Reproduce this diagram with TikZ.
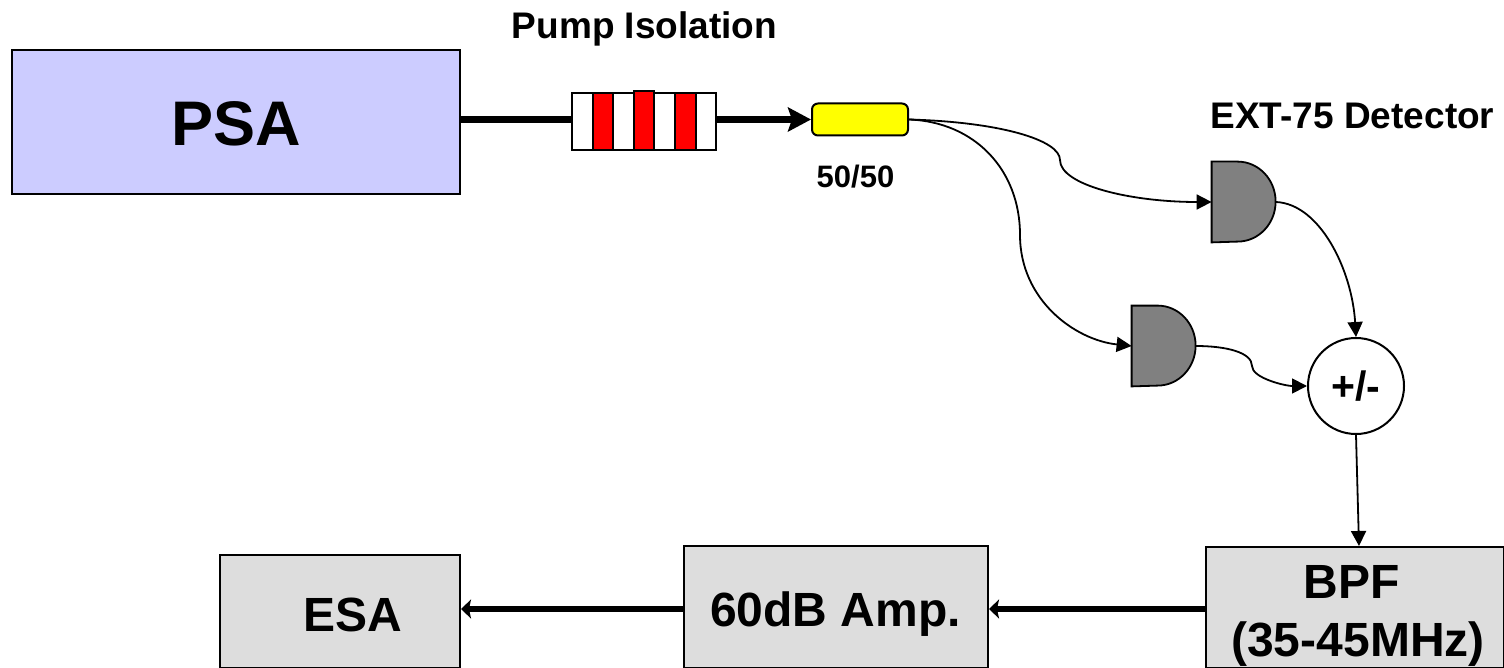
\documentclass[tikz,border=0pt]{standalone}
\usepackage{fontspec}
\setmainfont{Liberation Sans}
\usepackage{tikz}
\usetikzlibrary{arrows.meta}
\definecolor{couplerfill}{rgb}{1,1,0}
\tikzset{
  boxnode/.style={draw, line width=1pt, inner sep=0pt},
  boxlabel/.style={inner sep=0pt, anchor=base, font=\fontsize{24}{28}\selectfont\bfseries},
  thickline/.style={line width=3.7pt},
  thinline/.style={line width=0.9pt, -{Stealth[length=7.5pt,width=7.5pt,inset=0pt]}},
  bigtip/.style={-{Stealth[length=11.5pt,width=12pt,inset=2pt]}},
  smalltip/.style={-{Stealth[length=5pt,width=9.5pt,inset=1pt]}},
  stripe/.style={draw, line width=1pt, inner sep=0pt, minimum width=10.3pt, minimum height=28.5pt, anchor=west}
}
\begin{document}
\begin{tikzpicture}[x=0.5pt,y=-0.5pt]
\useasboundingbox (0,0) rectangle (1504,668);
\node[boxnode, fill={rgb,255:red,204;green,204;blue,255}, minimum width=224pt, minimum height=72pt] (psa) at (236,122) {};
\node[boxlabel, font=\fontsize{31.5}{36}\selectfont\bfseries] (psalabel) at (236,145.5) {PSA};
\draw \foreach \x/\c in {0/white,2/white,4/white,6/white,1/red,5/red} {(571+20.6*\x,121.5) node[stripe, fill=\c] (ring\x) {}};
\draw (571+20.6*3,121) node[stripe, fill=red, minimum height=29.5pt] (ring3) {};
\node[boxnode, fill=couplerfill, rounded corners=3pt, minimum width=48pt, minimum height=16pt] (coupler) at (860,119.5) {};
\node[font=\fontsize{18.5}{22}\selectfont\bfseries] (pumplabel) at (644.5,29) {Pump Isolation};
\node[font=\fontsize{15.5}{18}\selectfont\bfseries] (couplerlabel) at (855.5,177) {50/50};
\node[font=\fontsize{18.5}{22}\selectfont\bfseries] (detlabel) at (1352.5,116) {EXT-75 Detector};
\node[inner sep=0pt, minimum width=32pt, minimum height=40pt] (det1) at (1244,202) {};
\node[inner sep=0pt, minimum width=32pt, minimum height=40pt] (det2) at (1164,346) {};
\draw[line width=0.9pt, fill=gray] \foreach \d in {det1,det2} {(\d.north west) -- ++(26,0) arc (90:-90:19pt and 20pt) -- (\d.south west) -- cycle};
\node[circle, boxnode, fill=white, minimum size=48pt, font=\fontsize{20.5}{24}\selectfont\bfseries] (sum) at (1356,386) {+/-};
\node[boxnode, fill={rgb,255:red,221;green,221;blue,221}, minimum width=149pt, minimum height=60.5pt] (bpf) at (1355,607.5) {};
\node[boxlabel] (bpflabel) at (1351.5,598) {BPF};
\node[boxlabel] (bandlabel) at (1358,656) {(35-45MHz)};
\node[boxnode, fill={rgb,255:red,221;green,221;blue,221}, minimum width=152pt, minimum height=61pt] (amp) at (836,607) {};
\node[boxlabel] (amplabel) at (835.5,626) {60dB Amp.};
\node[boxnode, fill={rgb,255:red,221;green,221;blue,221}, minimum width=120pt, minimum height=56.5pt] (esa) at (340,611.5) {};
\node[boxlabel] (esalabel) at (353,631) {ESA};
\coordinate (bend1) at (1060,160);
\coordinate (bend2) at (1020,235);
\coordinate (bend3) at (1252,366);
\draw[thickline] (psa.east |- coupler) -- (ring0.west |- coupler);
\draw[thickline, bigtip] (ring6.east |- coupler) -- (coupler.west);
\draw[thinline] (coupler.east) .. controls (1000,122) and (1060,140) .. (bend1) .. controls (1060,185) and (1130,202) .. (det1.west);
\draw[thinline] (coupler.east) .. controls (975,122) and (1020,170) .. (bend2) .. controls (1020,300) and (1075,340) .. (det2.west);
\draw[thinline] (1276,202) .. controls (1320,204) and (1352,270) .. (sum.north);
\draw[thinline] (1196,346) .. controls (1225,346) and (1252,352) .. (bend3) .. controls (1252,378) and (1285,386) .. (sum.west);
\draw[thinline] (sum.south) -- (bpf.north -| 1359,0);
\draw[line width=3pt, smalltip] (bpf.west |- 0,609) -- (amp.east |- 0,609);
\draw[line width=3pt, smalltip] (amp.west |- 0,609) -- (esa.east |- 0,609);
\end{tikzpicture}
\end{document}
